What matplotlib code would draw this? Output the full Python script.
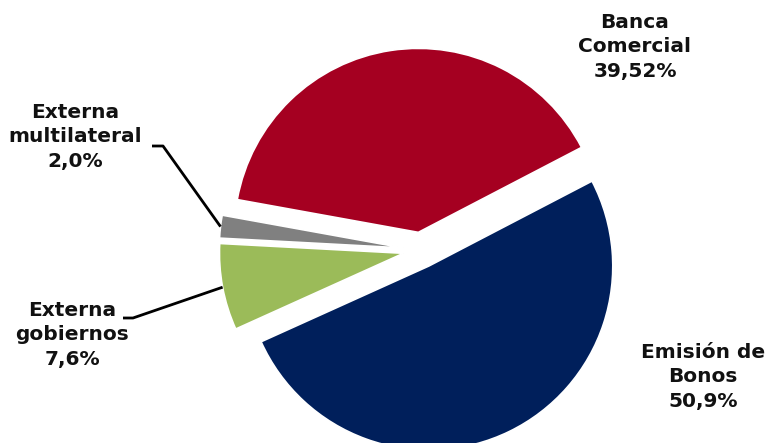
import numpy as np
import matplotlib
matplotlib.use("Agg")
import matplotlib.pyplot as plt

# Data
labels = ["Banca\nComercial\n39,52%", "Externa\nmultilateral\n2,0%",
          "Externa\ngobiernos\n7,6%", "Emisión de\nBonos\n50,9%"]
shares = [39.52, 2.0, 7.6, 50.9]
colors = ["#A50021", "#808080", "#9BBB59", "#001F5B"]

# Layout (pixels of the 769x443 canvas)
W, H = 769, 443
cx, cy = 421, 250      # pie centre in pixels
R = 184                # radius in pixels
expl = 0.097


def px2d(px, py):
    # pixel position -> data units (radius = 1)
    return (px - cx) / R, (cy - py) / R


fig = plt.figure(figsize=(W / 100, H / 100), dpi=100)
ax = fig.add_axes([0, 0, 1, 1])
wedges, _ = ax.pie(shares, colors=colors, startangle=27.5, counterclock=True,
                   explode=[expl] * len(shares), radius=1,
                   wedgeprops=dict(edgecolor="white", linewidth=1.2))
ax.set_xlim(-cx / R, (W - cx) / R)
ax.set_ylim(-(H - cy) / R, cy / R)
ax.set_aspect("equal")
ax.axis("off")

font = dict(fontsize=14.5, fontweight="bold", ha="center", va="center",
            linespacing=1.38, color="#111111")

# label centres (pixels)
label_pos = [(635, 47), (75, 137), (72, 335), (703, 377)]
for lab, (px, py) in zip(labels, label_pos):
    ax.text(*px2d(px, py), lab, **font)

# leader lines for the two small slices
stubs = {1: [(152, 146), (163, 146)], 2: [(123, 318), (133, 318)]}
for i, pts in stubs.items():
    w = wedges[i]
    mid = np.deg2rad((w.theta1 + w.theta2) / 2)
    ex = w.center[0] + w.r * np.cos(mid)
    ey = w.center[1] + w.r * np.sin(mid)
    xs = [px2d(*p)[0] for p in pts] + [ex]
    ys = [px2d(*p)[1] for p in pts] + [ey]
    ax.plot(xs, ys, color="black", lw=2, solid_capstyle="butt")

fig.savefig("out.png", dpi=100)
